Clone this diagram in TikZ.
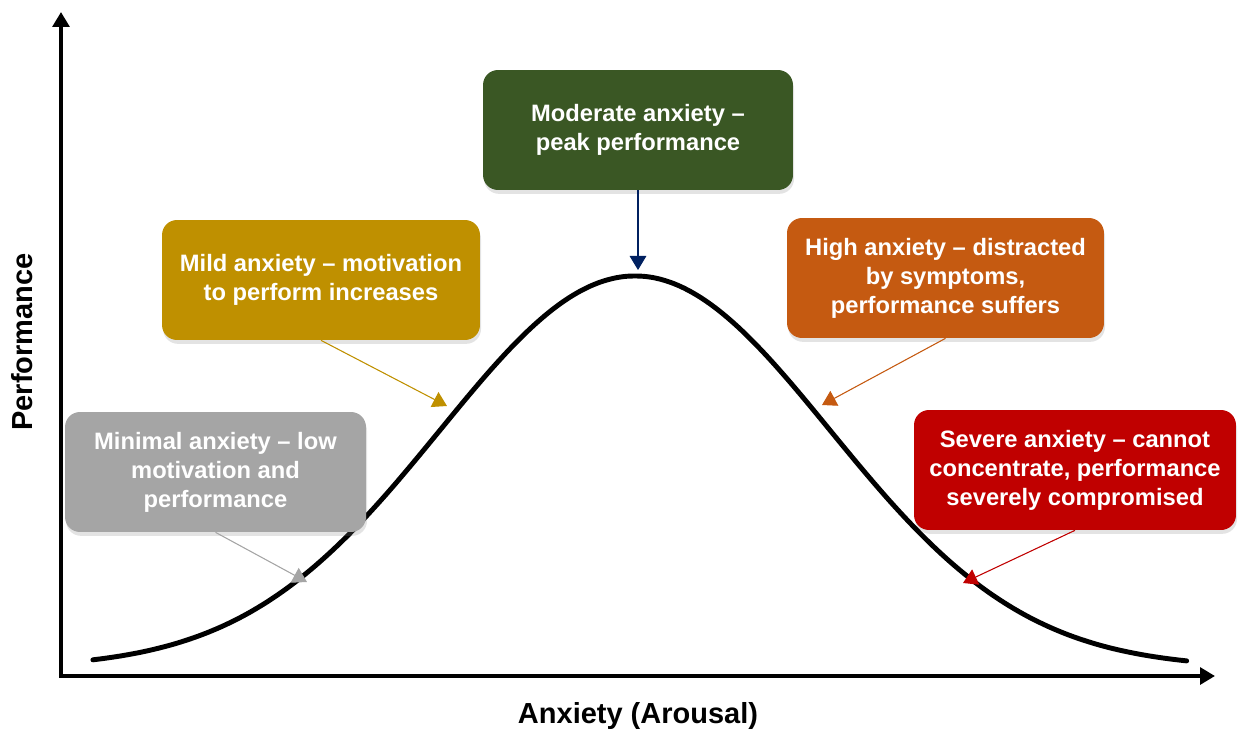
\documentclass[tikz,border=0pt]{standalone}
\usepackage{fontspec}
\setmainfont{Liberation Sans}
\usetikzlibrary{arrows.meta,shadows}

\definecolor{minimalgray}{HTML}{A5A5A5}
\definecolor{mildgold}{HTML}{BF9000}
\definecolor{moderategreen}{HTML}{3A5724}
\definecolor{highorange}{HTML}{C55A11}
\definecolor{severered}{HTML}{C00000}
\definecolor{peaknavy}{HTML}{002060}

\tikzset{
  zone/.style={rectangle, rounded corners=8.5pt, minimum height=2.4cm,
    text=white, align=center, inner sep=2pt,
    font=\fontsize{13.5}{16.5}\selectfont\bfseries,
    drop shadow={opacity=0.22, shadow xshift=0.6pt, shadow yshift=-2.2pt}},
  pointer/.style={-{Triangle[length=8pt,width=9.5pt]}, line width=0.6pt},
  axis/.style={-{Triangle[length=8.5pt,width=9.5pt]}, line width=2.2pt},
  bell/.style={line width=2.8pt, line cap=round},
  axislabel/.style={font=\fontsize{16.5}{20}\selectfont\bfseries},
}

\begin{document}
\begin{tikzpicture}[x=0.02cm, y=-0.02cm]
  \useasboundingbox (0,0) rectangle (1238,731);

  % axes
  \coordinate (origin) at (61,676);
  \coordinate (ytip) at (61,12);
  \coordinate (xtip) at (1215,676);
  \draw[axis] ([yshift=-1pt]origin) -- (ytip);
  \draw[axis] ([xshift=-1pt]origin) -- (xtip);
  \node[axislabel, rotate=90] (ylab) at (22,342) {Performance};
  \node[axislabel] (xlab) at (638,716) {Anxiety (Arousal)};

  % performance curve
  \draw[bell] plot[domain=-2.78:2.83, samples=120, smooth]
    ({635+195*\x}, {668-392*exp(-0.5*\x*\x)});

  % points on the curve
  \coordinate (onMinimal) at (307,582);
  \coordinate (onMild) at (447,406);
  \coordinate (onModerate) at (638,270);
  \coordinate (onHigh) at (822,405);
  \coordinate (onSevere) at (963,583);

  % zones
  \node[zone, fill=minimalgray, minimum width=6.02cm] (minimal) at (215.5,472)
    {Minimal anxiety -- low\\motivation and\\performance};
  \node[zone, fill=mildgold, minimum width=6.36cm] (mild) at (321,280)
    {Mild anxiety -- motivation\\to perform increases};
  \node[zone, fill=moderategreen, minimum width=6.2cm] (moderate) at (638,130)
    {Moderate anxiety --\\peak performance};
  \node[zone, fill=highorange, minimum width=6.34cm] (high) at (945.5,278)
    {High anxiety -- distracted\\by symptoms,\\performance suffers};
  \node[zone, fill=severered, minimum width=6.44cm] (severe) at (1075,470)
    {Severe anxiety -- cannot\\concentrate, performance\\severely compromised};

  % pointers
  \draw[pointer, draw=minimalgray, fill=minimalgray] (minimal.south) -- (onMinimal);
  \draw[pointer, draw=mildgold, fill=mildgold] (mild.south) -- (onMild);
  \draw[pointer, draw=peaknavy, fill=peaknavy] (moderate.south) -- (onModerate);
  \draw[pointer, draw=highorange, fill=highorange] (high.south) -- (onHigh);
  \draw[pointer, draw=severered, fill=severered] (severe.south) -- (onSevere);
\end{tikzpicture}
\end{document}
